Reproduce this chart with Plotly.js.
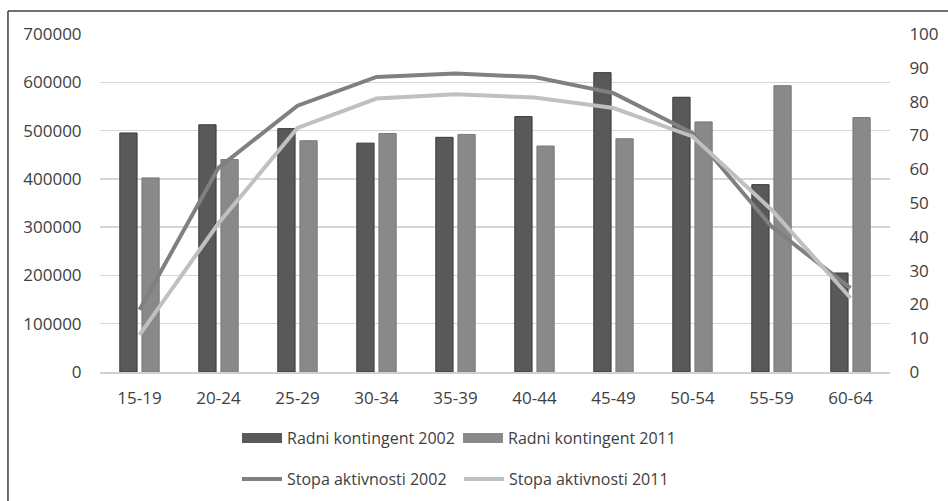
<!DOCTYPE html>
<html>
<head>
<meta charset="utf-8">
<script src="https://cdn.plot.ly/plotly-3.0.1.min.js"></script>
<style>html,body{margin:0;padding:0;background:#fff;overflow:hidden;}#chart{width:948px;height:501px;overflow:hidden;}</style>
</head>
<body>
<div id="chart"></div>
<script>
var categories = ["15-19","20-24","25-29","30-34","35-39","40-44","45-49","50-54","55-59","60-64"];
var radni2002 = [495000, 512000, 504000, 474000, 486000, 529000, 620000, 569000, 388000, 205000];
var radni2011 = [402000, 440000, 479000, 494000, 492000, 468000, 483000, 518000, 593000, 527000];
var stopa2002 = [18.4, 60.4, 78.8, 87.3, 88.3, 87.3, 82.5, 70.7, 43, 24.8];
var stopa2011 = [11.0, 44, 72.2, 80.9, 82.2, 81.2, 78.1, 69.7, 48, 21.9];
var leftTicks = [0,100000,200000,300000,400000,500000,600000,700000];
var rightTicks = [0,10,20,30,40,50,60,70,80,90,100];
var seriesNames = ["Radni kontingent 2002","Radni kontingent 2011","Stopa aktivnosti 2002","Stopa aktivnosti 2011"];

var fontFam = "Open Sans, sans-serif";
var txtCol = "#404040";
var barDark = "#595959", barLight = "#898989", lineDark = "#808080", lineLight = "#c0c0c0";

var traces = [
  {type:"bar", name:seriesNames[0], x:categories, y:radni2002, yaxis:"y", showlegend:false,
   marker:{color:barDark, line:{color:"#3a3a3a", width:1}}},
  {type:"bar", name:seriesNames[1], x:categories, y:radni2011, yaxis:"y", showlegend:false,
   marker:{color:barLight, line:{color:"#7a7a7a", width:1}}},
  {type:"scatter", mode:"lines", name:seriesNames[2], x:categories, y:stopa2002, yaxis:"y2",
   line:{color:lineDark, width:4}, legend:"legend3"},
  {type:"scatter", mode:"lines", name:seriesNames[3], x:categories, y:stopa2011, yaxis:"y2",
   line:{color:lineLight, width:4}, legend:"legend4"},
  // legend-only entries for the bar series (wide rectangle key like the original)
  {type:"scatter", mode:"lines", name:seriesNames[0], x:[null], y:[null], yaxis:"y",
   line:{color:barDark, width:10}, legend:"legend", hoverinfo:"skip"},
  {type:"scatter", mode:"lines", name:seriesNames[1], x:[null], y:[null], yaxis:"y",
   line:{color:barLight, width:10}, legend:"legend2", hoverinfo:"skip"}
];

function leg(xpx, ypx) {
  return {orientation:"h", xref:"container", yref:"container",
          x:xpx/948, xanchor:"left", y:1 - ypx/501, yanchor:"middle",
          font:{size:16, color:txtCol, family:fontFam}, itemwidth:40, bgcolor:"rgba(0,0,0,0)",
          borderwidth:0};
}

var layout = {
  width:948, height:501,
  margin:{l:100, r:58, t:34, b:129},
  paper_bgcolor:"#fff", plot_bgcolor:"#fff",
  font:{family:fontFam, size:17, color:txtCol},
  barmode:"group", bargap:0.44, bargroupgap:0.22,
  showlegend:true,
  xaxis:{type:"category", showgrid:false, showline:true, linecolor:"#d0d0d0", linewidth:1.5,
         ticks:"outside", ticklen:10, tickcolor:"rgba(0,0,0,0)", tickfont:{size:17, color:txtCol}},
  yaxis:{range:[0,700000], tickvals:leftTicks, ticktext:leftTicks.map(String), showgrid:true,
         gridcolor:"#d6d6d6", gridwidth:1.5, zeroline:false, showline:false,
         ticks:"outside", ticklen:14, tickcolor:"rgba(0,0,0,0)", tickfont:{size:17, color:txtCol}},
  yaxis2:{range:[0,100], tickvals:rightTicks, overlaying:"y", side:"right", showgrid:false,
          zeroline:false, showline:false, ticks:"outside", ticklen:15, tickcolor:"rgba(0,0,0,0)",
          tickfont:{size:17, color:txtCol}},
  legend:leg(237, 438),
  legend2:leg(458, 438),
  legend3:leg(237, 479),
  legend4:leg(459, 479),
  shapes:[
    {type:"line", xref:"paper", yref:"paper", x0:-0.1165, x1:-0.1165, y0:-0.3817, y1:1.068,
     line:{color:"#3f3f3f", width:1.5}, layer:"below"},
    {type:"line", xref:"paper", yref:"paper", x0:-0.1165, x1:1.0734, y0:1.068, y1:1.068,
     line:{color:"#3f3f3f", width:1.5}, layer:"below"}
  ]
};

Plotly.newPlot("chart", traces, layout, {displayModeBar:false, staticPlot:true});
</script>
</body>
</html>
